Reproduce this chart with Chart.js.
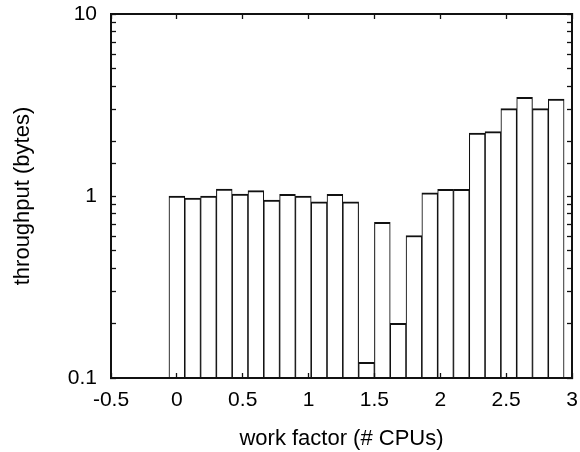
<!DOCTYPE html>
<html>
<head>
<meta charset="utf-8">
<script src="https://cdn.jsdelivr.net/npm/chart.js@4/dist/chart.umd.min.js"></script>
<style>
  body { margin: 0; background: #fff; }
  canvas { display: block; }
</style>
</head>
<body>
<canvas id="myChart" width="580" height="452"></canvas>
<script>
// work factor positions (bar centres) and measured throughput
const workFactor = [0, 0.12, 0.24, 0.36, 0.48, 0.6, 0.72, 0.84, 0.96, 1.08, 1.2, 1.32,
  1.44, 1.56, 1.68, 1.8, 1.92, 2.04, 2.16, 2.28, 2.4, 2.52, 2.64, 2.76, 2.88];
const throughput = [1.0, 0.975, 1.0, 1.09, 1.025, 1.07, 0.95, 1.02, 1.0, 0.93, 1.02, 0.93,
  0.122, 0.716, 0.2, 0.607, 1.04, 1.087, 1.087, 2.22, 2.26, 3.02, 3.48, 3.02, 3.41];
const yLabels = ['0.1', '1', '10'];

const fontFamily = "'Liberation Sans', Arial, sans-serif";
const ink = '#111';

function isDecade(v) {
  const l = Math.log10(v);
  return Math.abs(l - Math.round(l)) < 1e-9;
}

// drop the label overflow padding so the plot box sits where the reference has it
function fixSize(prop, size) {
  return s => {
    s[prop] = size;
    s.paddingTop = 0;
    s.paddingBottom = 0;
    s.paddingLeft = 0;
    s.paddingRight = 0;
  };
}

// inward tick marks, drawn above the bars
const tickGrid = {
  z: 1,
  drawOnChartArea: false,
  drawTicks: true,
  tickLength: -5,
  tickColor: ink,
  tickWidth: 1.3
};
const axisBorder = { display: true, color: ink, width: 2, z: 1 };

const ctx = document.getElementById('myChart').getContext('2d');
const chartInstance = new Chart(ctx, {
  type: 'bar',
  data: {
    datasets: [{
      data: workFactor.map((x, i) => ({ x: x, y: throughput[i] })),
      backgroundColor: '#fff',
      borderColor: ink,
      borderWidth: { top: 2, left: 1.1, right: 1.1, bottom: 0 },
      borderSkipped: 'start',
      barPercentage: 1,
      categoryPercentage: 1
    }]
  },
  options: {
    responsive: false,
    animation: false,
    devicePixelRatio: 1,
    layout: { padding: { left: 0, right: 8, top: 14, bottom: 0 } },
    plugins: { legend: { display: false }, tooltip: { enabled: false } },
    scales: {
      x: {
        type: 'linear',
        position: 'bottom',
        min: -0.5,
        max: 3,
        offset: false,
        grid: Object.assign({ offset: false }, tickGrid),
        border: axisBorder,
        ticks: {
          stepSize: 0.5,
          padding: 15,
          color: '#000',
          font: { family: fontFamily, size: 21 },
          maxRotation: 0,
          callback: v => String(Math.round(v * 10) / 10)
        },
        title: {
          display: true,
          text: 'work factor (# CPUs)',
          color: '#000',
          font: { family: fontFamily, size: 22 },
          padding: 0
        },
        afterFit: fixSize('height', 74)
      },
      x2: {
        type: 'linear',
        position: 'top',
        min: -0.5,
        max: 3,
        offset: false,
        grid: Object.assign({ offset: false }, tickGrid),
        border: axisBorder,
        ticks: { stepSize: 0.5, display: false },
        afterFit: fixSize('height', 0)
      },
      y: {
        type: 'logarithmic',
        position: 'left',
        min: 0.1,
        max: 10,
        grid: tickGrid,
        border: axisBorder,
        ticks: {
          autoSkip: false,
          padding: 19,
          color: '#000',
          font: { family: fontFamily, size: 21 },
          callback: v => isDecade(v) ? yLabels[Math.round(Math.log10(v)) + 1] : ''
        },
        title: {
          display: true,
          text: 'throughput (bytes)',
          color: '#000',
          font: { family: fontFamily, size: 22 },
          padding: { top: 10, bottom: 0 }
        },
        afterFit: fixSize('width', 111)
      },
      y2: {
        type: 'logarithmic',
        position: 'right',
        min: 0.1,
        max: 10,
        grid: tickGrid,
        border: axisBorder,
        ticks: { autoSkip: false, display: false },
        afterFit: fixSize('width', 0)
      }
    }
  }
});
</script>
</body>
</html>
